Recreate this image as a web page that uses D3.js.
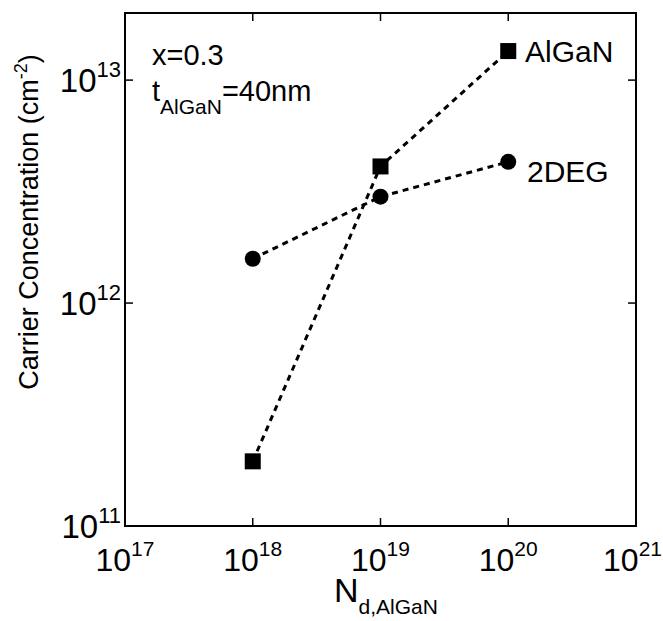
<!DOCTYPE html>
<html><head><meta charset="utf-8">
<script src="https://cdn.jsdelivr.net/npm/d3@7"></script>
<style>body{margin:0;background:#fff}svg{display:block}text{font-family:"Liberation Sans",Arial,sans-serif;fill:#000}</style>
</head><body><svg id="c" width="663" height="621"></svg>
<script>
const dopings = [1e18, 1e19, 1e20];
const algan = [1.95e11, 4.1e12, 1.35e13];
const deg2 = [1.58e12, 3.0e12, 4.3e12];
const xTicks = [1e17, 1e18, 1e19, 1e20, 1e21];
const yTicks = [1e11, 1e12, 1e13];
const xExps = ["17","18","19","20","21"];
const yExps = ["11","12","13"];

const svg = d3.select("#c");
const L = 125, R = 636, T = 13, B = 526;
const x = d3.scaleLog().domain([1e17, 1e21]).range([L, R]);
const y = d3.scaleLog().domain([1e11, 2e13]).range([B, T]);

svg.append("rect").attr("x", L).attr("y", T).attr("width", R - L).attr("height", B - T)
  .attr("fill", "none").attr("stroke", "#000").attr("stroke-width", 2);

const tl = 8;
const g = svg.append("g").attr("stroke", "#000").attr("stroke-width", 1.5);
xTicks.slice(1, -1).forEach(v => {
  g.append("line").attr("x1", x(v)).attr("x2", x(v)).attr("y1", B).attr("y2", B - tl);
  g.append("line").attr("x1", x(v)).attr("x2", x(v)).attr("y1", T).attr("y2", T + tl);
});
yTicks.slice(1).forEach(v => {
  g.append("line").attr("y1", y(v)).attr("y2", y(v)).attr("x1", L).attr("x2", L + tl);
  g.append("line").attr("y1", y(v)).attr("y2", y(v)).attr("x1", R).attr("x2", R - tl);
});

// tick labels
xTicks.forEach((v, i) => {
  const t = svg.append("text").attr("x", x(v)).attr("y", 571).attr("text-anchor", "middle").attr("font-size", 32);
  t.append("tspan").text("10");
  t.append("tspan").attr("dy", -15).attr("font-size", 21).text(xExps[i]);
  const bb = t.node().getBBox();
  if (bb.x + bb.width > 662) t.attr("x", x(v) - (bb.x + bb.width - 662));
});
yTicks.forEach((v, i) => {
  const t = svg.append("text").attr("x", 121).attr("y", y(v) + 12).attr("text-anchor", "end").attr("font-size", 33);
  t.append("tspan").text("10");
  t.append("tspan").attr("dy", -15).attr("font-size", 22).text(yExps[i]);
});

// axis titles
const yt = svg.append("text").attr("transform", "translate(38,222) rotate(-90)").attr("text-anchor", "middle").attr("font-size", 27);
yt.append("tspan").text("Carrier Concentration (cm");
yt.append("tspan").attr("dy", -11).attr("font-size", 18).text("-2");
yt.append("tspan").attr("dy", 11).text(")");

const xt = svg.append("text").attr("x", 334).attr("y", 602).attr("font-size", 34);
xt.append("tspan").text("N");
xt.append("tspan").attr("dy", 12).attr("font-size", 21).text("d,AlGaN");

// annotations
svg.append("text").attr("x", 152).attr("y", 65).attr("font-size", 29).text("x=0.3");
const tt = svg.append("text").attr("x", 152).attr("y", 101).attr("font-size", 29);
tt.append("tspan").text("t");
tt.append("tspan").attr("dy", 13).attr("font-size", 21).text("AlGaN");
tt.append("tspan").attr("dy", -13).text("=40nm");

svg.append("text").attr("x", 525).attr("y", 62).attr("font-size", 30).text("AlGaN");
svg.append("text").attr("x", 527).attr("y", 182).attr("font-size", 30).text("2DEG");

// series
const line = d3.line().x((d, i) => x(dopings[i])).y(d => y(d));
[algan, deg2].forEach(s => {
  svg.append("path").datum(s).attr("d", line).attr("fill", "none")
    .attr("stroke", "#000").attr("stroke-width", 3).attr("stroke-dasharray", "6,5");
});
const sq = 16;
svg.selectAll(".sq").data(algan).enter().append("rect")
  .attr("x", (d, i) => x(dopings[i]) - sq / 2).attr("y", d => y(d) - sq / 2)
  .attr("width", sq).attr("height", sq).attr("fill", "#000");
svg.selectAll(".ci").data(deg2).enter().append("circle")
  .attr("cx", (d, i) => x(dopings[i])).attr("cy", d => y(d)).attr("r", 8).attr("fill", "#000");
</script></body></html>
